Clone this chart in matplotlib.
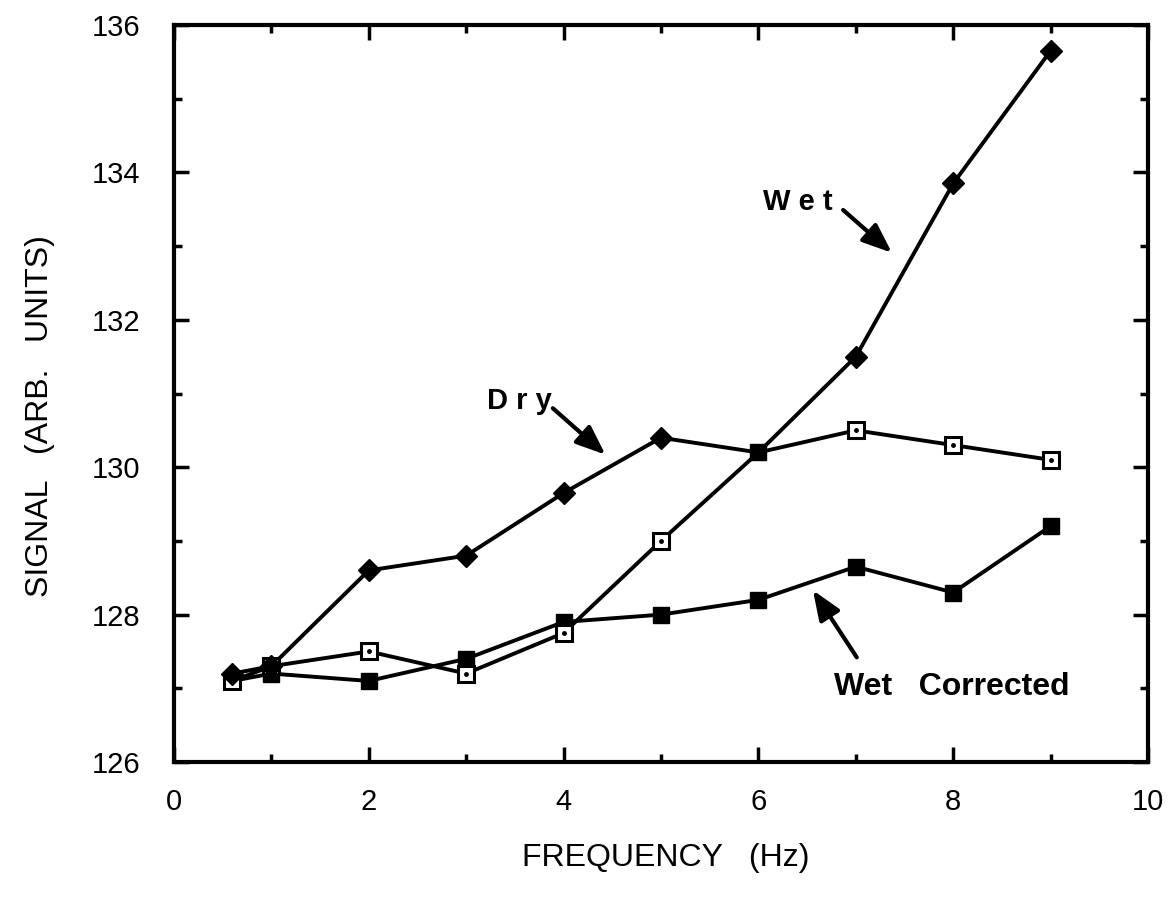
import matplotlib
matplotlib.use('Agg')
import matplotlib.pyplot as plt
from matplotlib.ticker import MultipleLocator

plt.rcParams['font.family'] = ['Liberation Sans', 'DejaVu Sans']

# values
freq = [0.6, 1, 2, 3, 4, 5, 6, 7, 8, 9]
dry = [127.2, 127.3, 128.6, 128.8, 129.65, 130.4, 130.2, 130.5, 130.3, 130.1]
wet = [127.1, 127.3, 127.5, 127.2, 127.75, 129.0, 130.2, 131.5, 133.85, 135.65]
wet_corr = [127.1, 127.2, 127.1, 127.4, 127.9, 128.0, 128.2, 128.65, 128.3, 129.2]

fig = plt.figure(figsize=(11.73, 9.09), dpi=100)
ax = fig.add_axes([0.1483, 0.1617, 0.8304, 0.8108])

lw = 2.8
# lines
for ys in (dry, wet, wet_corr):
    ax.plot(freq, ys, color='black', lw=lw, zorder=2)


def diamonds(xs, ys):
    ax.plot(xs, ys, ls='none', marker='D', ms=11.5, mfc='black', mec='black', zorder=4)


def open_sq(xs, ys):
    ax.plot(xs, ys, ls='none', marker='s', ms=11.5, mfc='white', mec='black', mew=2.2, zorder=4)
    ax.plot(xs, ys, ls='none', marker='o', ms=2.5, mfc='black', mec='black', zorder=5)


def filled_sq(xs, ys):
    ax.plot(xs, ys, ls='none', marker='s', ms=12, mfc='black', mec='black', zorder=4)


# markers as printed: symbols swap after the shared point at 6 Hz
filled_sq(freq, wet_corr)
open_sq(freq[:6], wet[:6])
diamonds(freq[:6], dry[:6])
filled_sq(freq[6:7], dry[6:7])
open_sq(freq[7:], dry[7:])
diamonds(freq[7:], wet[7:])

ax.set_xlim(0, 10)
ax.set_ylim(126, 136)
ax.xaxis.set_major_locator(MultipleLocator(2))
ax.xaxis.set_minor_locator(MultipleLocator(1))
ax.yaxis.set_major_locator(MultipleLocator(2))
ax.yaxis.set_minor_locator(MultipleLocator(1))
ax.tick_params(which='both', direction='in', top=True, right=True, width=2.5)
ax.tick_params(which='major', length=11)
ax.tick_params(which='minor', length=5.5)
ax.tick_params(axis='x', which='major', pad=19, labelsize=21)
ax.tick_params(axis='y', which='major', pad=24, labelsize=21)
for s in ax.spines.values():
    s.set_linewidth(3)

ax.set_xlabel('FREQUENCY   (Hz)', fontsize=23, va='center')
ax.xaxis.set_label_coords(0.505, -0.13)
ax.set_ylabel('SIGNAL   (ARB.   UNITS)', fontsize=23, va='center')
ax.yaxis.set_label_coords(-0.138, 0.47)

arrow = dict(arrowstyle='-|>,head_length=1.0,head_width=0.4', mutation_scale=18,
             lw=3, color='black', shrinkA=0, shrinkB=0)
txt = dict(fontsize=21, fontweight='bold', ha='center', va='center')

ax.text(3.55, 130.9, 'D r y', **txt)
ax.annotate('', xy=(4.43, 130.17), xytext=(3.89, 130.8), arrowprops=arrow)

ax.text(6.4, 133.6, 'W e t', **txt)
ax.annotate('', xy=(7.37, 132.91), xytext=(6.87, 133.49), arrowprops=arrow)

ax.text(7.99, 127.02, 'Wet   Corrected', fontsize=23, fontweight='bold',
        ha='center', va='center')
ax.annotate('', xy=(6.56, 128.33), xytext=(7.01, 127.42), arrowprops=arrow)

fig.savefig('out.png', dpi=100)
